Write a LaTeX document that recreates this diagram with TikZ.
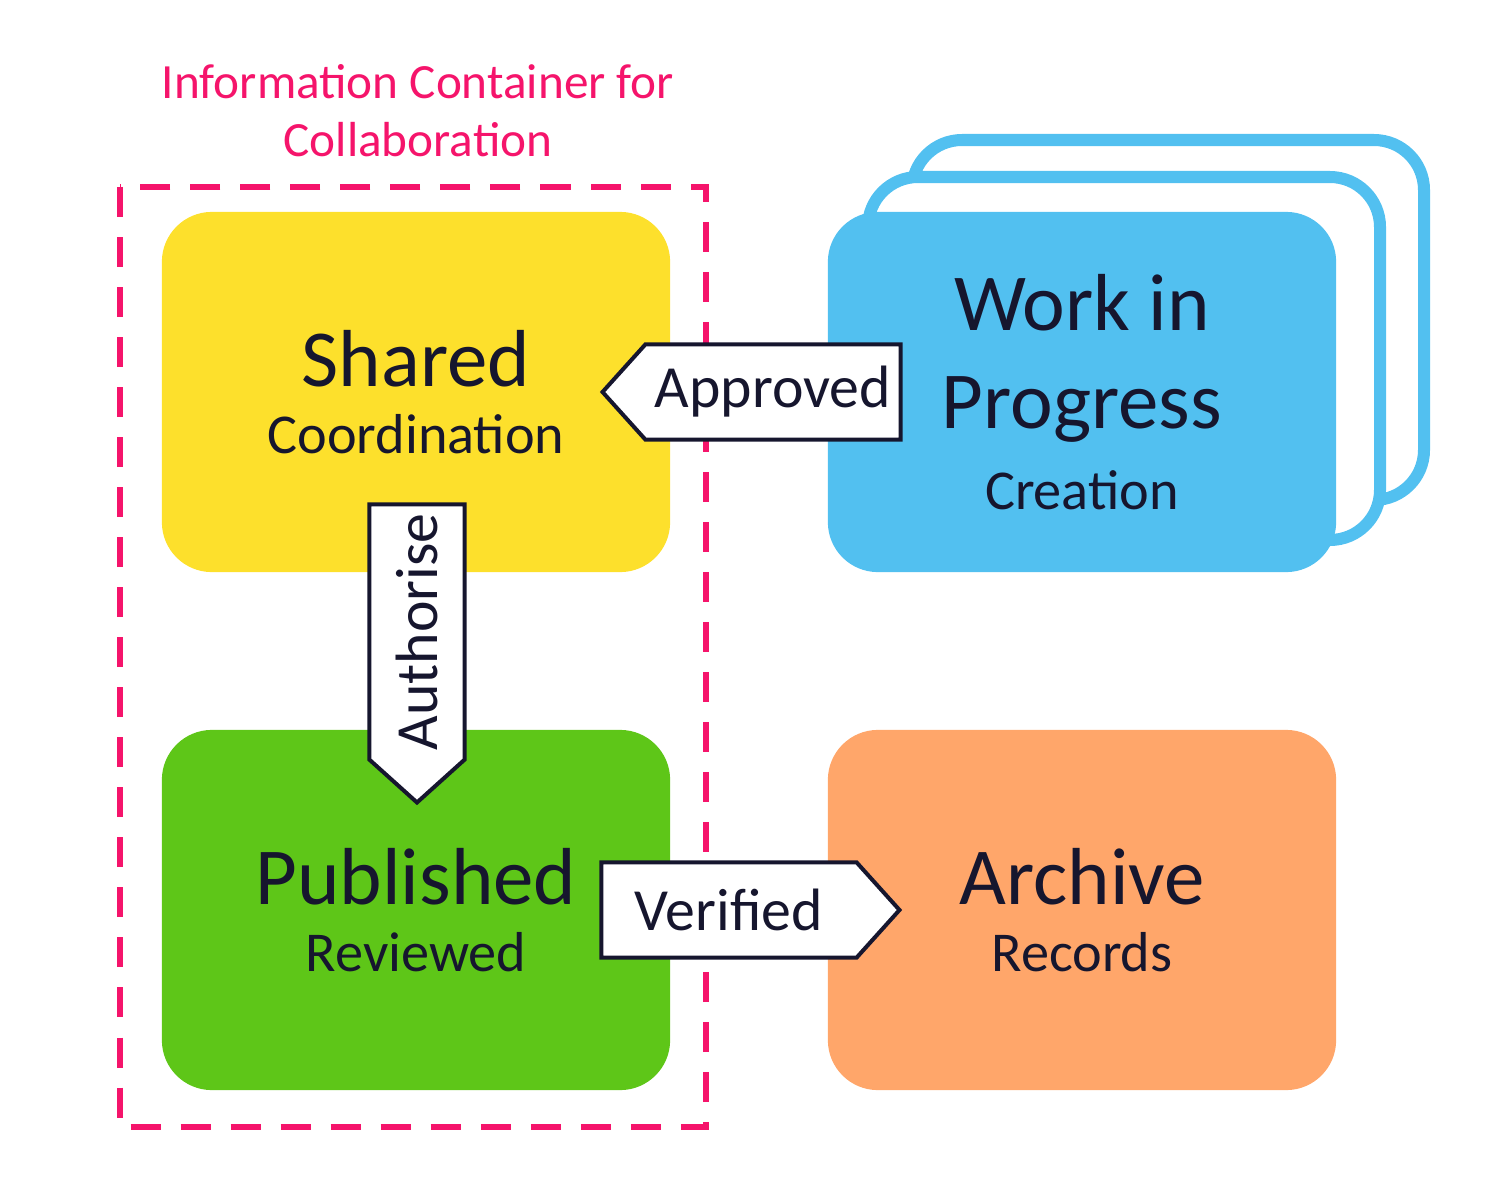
\documentclass[tikz,border=0pt]{standalone}
\usepackage{fontspec}
\setmainfont{Carlito}
\usetikzlibrary{shapes.arrows}
\definecolor{ink}{HTML}{16162E}
\definecolor{sharedyellow}{HTML}{FDE02C}
\definecolor{publishedgreen}{HTML}{5EC618}
\definecolor{wipblue}{HTML}{52C0F0}
\definecolor{archiveorange}{HTML}{FFA66A}
\definecolor{containerpink}{HTML}{F5146B}
\tikzset{
  stage/.style = {rounded corners=0.5cm, minimum width=5.08cm, minimum height=3.6cm, align=center, text=ink, inner sep=0},
  sheet/.style = {draw=wipblue, line width=0.12cm, fill=white, rounded corners=0.5cm},
  flow/.style = {single arrow, draw=ink, fill=white, line width=0.04cm, single arrow head extend=0pt,
    single arrow tip angle=96, minimum width=0.95cm, minimum height=2.98cm, inner sep=0, text=ink, font=\fontsize{17}{20}\selectfont},
}
\newcommand{\stagetitle}[1]{{\fontsize{23}{28}\selectfont #1}}
\newcommand{\stagenote}[1]{{\fontsize{16}{19}\selectfont #1}}
\begin{document}
\begin{tikzpicture}[x=0.01cm, y=-0.01cm]
  \useasboundingbox (0, 0) rectangle (1512, 1194);
  % stacked sheets behind work in progress
  \draw[sheet] (912, 140) rectangle (1424, 500);
  \draw[sheet] (868, 177) rectangle (1380, 540);
  \node[stage, fill=sharedyellow] (shared) at (416, 392) {\stagetitle{Shared}\\[7pt] \stagenote{Coordination}};
  \node[stage, fill=publishedgreen] (published) at (416, 910) {\stagetitle{Published}\\[7pt] \stagenote{Reviewed}};
  \node[stage, fill=wipblue] (wip) at (1082, 392) {\stagetitle{Work in}\\[12pt] \stagetitle{Progress}\\[7pt] \stagenote{Creation}};
  \node[stage, fill=archiveorange] (archive) at (1082, 910) {\stagetitle{Archive}\\[7pt] \stagenote{Records}};
  % container
  \draw[containerpink, line width=0.06cm, dash pattern=on 0.3cm off 0.2cm] (120, 187) rectangle (706, 1127);
  \node[text=containerpink, align=center, font=\fontsize{14}{16.5}\selectfont] (container) at (418, 111) {Information Container for\\Collaboration};
  % flows
  \node[flow, shape border rotate=180] (approved) at (773, 392) {Approved};
  \node[flow] (verified) at (729, 910) {Verified};
  \node[flow, rotate=90, shape border rotate=180] (authorise) at (417, 632) {Authorise};
\end{tikzpicture}
\end{document}
